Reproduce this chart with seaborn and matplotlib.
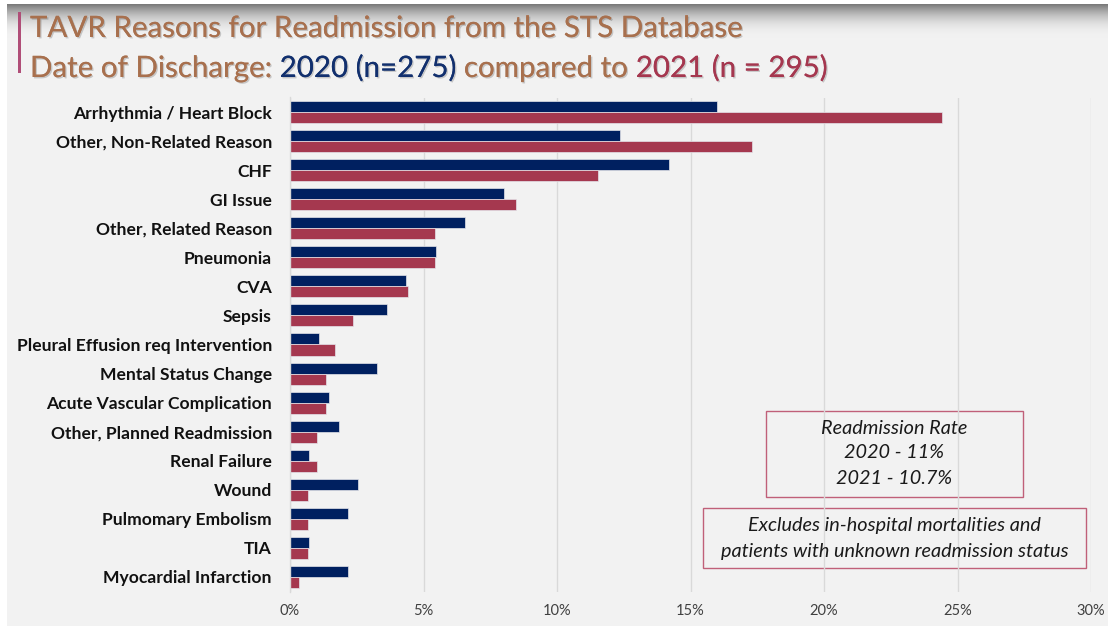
import numpy as np
import pandas as pd
import matplotlib
matplotlib.use("Agg")
import matplotlib.pyplot as plt
import matplotlib.patheffects as pe
from matplotlib.patches import Rectangle
import seaborn as sns

# Share of readmitted TAVR patients by reason (percent)
reasons = [
    "Arrhythmia / Heart Block",
    "Other, Non-Related Reason",
    "CHF",
    "GI Issue",
    "Other, Related Reason",
    "Pneumonia",
    "CVA",
    "Sepsis",
    "Pleural Effusion req Intervention",
    "Mental Status Change",
    "Acute Vascular Complication",
    "Other, Planned Readmission",
    "Renal Failure",
    "Wound",
    "Pulmomary Embolism",
    "TIA",
    "Myocardial Infarction",
]
pct_2020 = [16.0, 12.36, 14.18, 8.0, 6.55, 5.45, 4.36, 3.64, 1.09, 3.27,
            1.45, 1.82, 0.73, 2.55, 2.18, 0.73, 2.18]
pct_2021 = [24.41, 17.29, 11.53, 8.47, 5.42, 5.42, 4.41, 2.37, 1.69, 1.36,
            1.36, 1.02, 1.02, 0.68, 0.68, 0.68, 0.34]
years = ["2020", "2021"]
x_ticks = [0, 5, 10, 15, 20, 25, 30]
title_line1 = "TAVR Reasons for Readmission from the STS Database"
title_line2 = [("Date of Discharge: ", "brown"), ("2020 (n=275) ", "navy"),
               ("compared to ", "brown"), ("2021 (n = 295)", "crimson")]
rate_box_lines = ["Readmission Rate", "2020 - 11%", "2021 - 10.7%"]
note_box_lines = ["Excludes in-hospital mortalities and",
                  "patients with unknown readmission status"]

NAVY = "#002060"
CRIMSON = "#A5384F"
BROWN = "#A8704E"
PANEL = "#F2F2F2"
BOX_EDGE = "#C06079"
colors = {"brown": BROWN, "navy": "#12306E", "crimson": "#A5374F"}

df = pd.DataFrame({
    "Reason": reasons * 2,
    "Year": [years[0]] * len(reasons) + [years[1]] * len(reasons),
    "Percent": pct_2020 + pct_2021,
})

W, H, DPI = 1108, 627, 100
fig = plt.figure(figsize=(W / DPI, H / DPI), dpi=DPI, facecolor="white")

# slide background: light panel with a soft shadow band along the top
bg = fig.add_axes([0, 0, 1, 1], zorder=-10)
bg.set_xlim(0, W)
bg.set_ylim(H, 0)
bg.axis("off")
bg.add_patch(Rectangle((7, 4), W - 7, 622, facecolor=PANEL, edgecolor="none"))
t = np.linspace(0, 1, 60)[:, None]
shade = 0.47 + (0.949 - 0.47) * (1 - (1 - t) ** 2.2)
grad = np.repeat(shade, 2, axis=1)
bg.imshow(np.dstack([grad, grad, grad]), extent=(7, W, 38, 4),
          aspect="auto", interpolation="bilinear", zorder=1)
bg.add_patch(Rectangle((18, 12), 3, 61, facecolor="#B04E78",
                       edgecolor="none", zorder=2))
bg.set_xlim(0, W)
bg.set_ylim(H, 0)

ax = fig.add_axes([290 / W, 35.5 / H, (1091 - 290) / W, (591.5 - 97.5) / H])
ax.set_facecolor("none")
sns.barplot(data=df, y="Reason", x="Percent", hue="Year", orient="h",
            palette=[NAVY, CRIMSON], saturation=1, width=0.76, gap=0, ax=ax,
            edgecolor="#E4E4EA", linewidth=0.5, legend=False,
            errorbar=None, order=reasons)

ax.set_xlim(0, 30)
ax.set_ylim(len(reasons) - 0.5, -0.5)
ax.set_xticks(x_ticks)
ax.set_xticklabels([f"{v}%" for v in x_ticks], fontsize=10.5,
                   color="#404040", family="Lato")
ax.set_yticks(range(len(reasons)))
ax.set_yticklabels(reasons, fontsize=12.6, fontweight="bold",
                   color="#111111", family="Lato")
ax.tick_params(axis="x", length=0, pad=9)
ax.tick_params(axis="y", length=0, pad=13)
ax.set_xlabel("")
ax.set_ylabel("")
ax.grid(axis="x", color="#D9D9D9", linewidth=1)
ax.grid(axis="y", visible=False)
ax.set_axisbelow(True)
for side in ["top", "right", "bottom"]:
    ax.spines[side].set_visible(False)
ax.spines["left"].set_color("#D9D9D9")
ax.spines["left"].set_linewidth(1)

# title: size chosen so the first line spans the header width
renderer = fig.canvas.get_renderer()
shadow = [pe.withSimplePatchShadow(offset=(1, -1), shadow_rgbFace="#000000",
                                   alpha=0.18), pe.Normal()]


def px(x, y):
    return x / W, 1 - y / H


probe = fig.text(0, 0, title_line1, fontsize=20, family="Lato")
w20 = probe.get_window_extent(renderer).width
probe.remove()
title_size = 20 * (713 / w20)

fig.text(*px(30, 37), title_line1, fontsize=title_size, family="Lato",
         color=BROWN, va="baseline", ha="left", path_effects=shadow)

x_cursor = 30
for piece, key in title_line2:
    txt = fig.text(*px(x_cursor, 77), piece, fontsize=title_size,
                   family="Lato", color=colors[key], va="baseline",
                   ha="left", path_effects=shadow)
    x_cursor += txt.get_window_extent(renderer).width

# annotation boxes
bg.add_patch(Rectangle((766, 411), 257, 86, facecolor="none",
                       edgecolor=BOX_EDGE, linewidth=1, zorder=5))
bg.add_patch(Rectangle((703, 508), 383, 60, facecolor="none",
                       edgecolor=BOX_EDGE, linewidth=1, zorder=5))
for line, y in zip(rate_box_lines, [428, 453, 479]):
    fig.text(*px(894.5, y), line, fontsize=14.3, style="italic",
             family="Lato", color="#1A1A1A", ha="center", va="center")
for line, y in zip(note_box_lines, [525, 551]):
    fig.text(*px(894.5, y), line, fontsize=14.3, style="italic",
             family="Lato", color="#1A1A1A", ha="center", va="center")

fig.savefig("out.png", dpi=DPI, facecolor="white")
